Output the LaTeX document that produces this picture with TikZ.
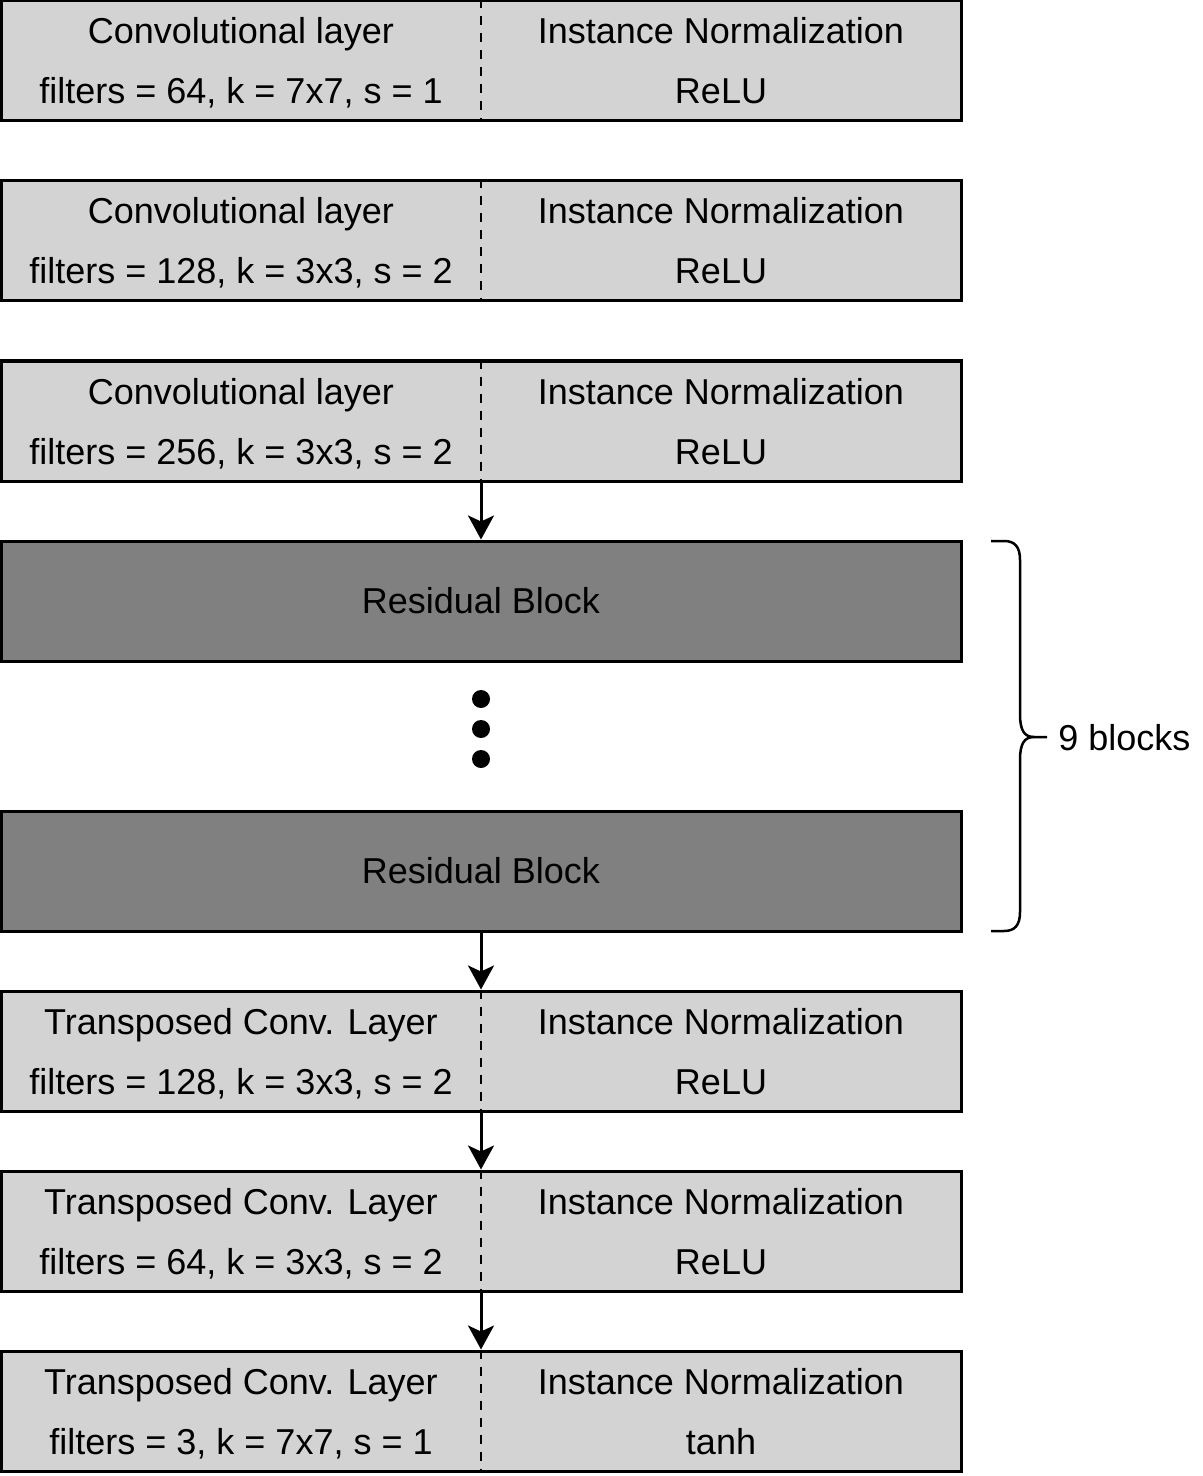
\documentclass[tikz,border=0pt]{standalone}
\usepackage{fontspec}
\setmainfont{Liberation Sans}
\usetikzlibrary{arrows.meta}
\definecolor{convgray}{RGB}{211,211,211}
\definecolor{resgray}{RGB}{128,128,128}
\tikzset{
  convbox/.style={draw,line width=1.5pt,fill=convgray,minimum width=480pt,minimum height=60pt,inner sep=0pt},
  resbox/.style={convbox,fill=resgray},
  txt/.style={inner sep=0pt,font=\fontsize{18}{22}\selectfont},
  line/.style={txt,anchor=base},
  divider/.style={line width=1.25pt,dash pattern=on 4.5pt off 4pt},
  flow/.style={line width=1.5pt,-{Stealth[length=12pt,width=13pt,inset=3pt]}},
  bracepen/.style={line width=1.25pt}
}
% name, y, left top, left bottom, right top, right bottom
\def\convrow#1#2#3#4#5#6{%
  \node[convbox] (#1) at (481,#2) {};
  \draw[divider] (#1.north) -- (#1.south);
  \node[line] (#1-lt) at ([xshift=-120pt,yshift=8.5pt]#1.center) {#3};
  \node[line] (#1-lb) at ([xshift=-120pt,yshift=-21.5pt]#1.center) {#4};
  \node[line] (#1-rt) at ([xshift=120pt,yshift=8.5pt]#1.center) {#5};
  \node[line] (#1-rb) at ([xshift=120pt,yshift=-21.5pt]#1.center) {#6};
}

\begin{document}
\begin{tikzpicture}[x=0.5pt,y=-0.5pt]
  \useasboundingbox (0,0) rectangle (1203,1476);
  \convrow{c1}{61}{Convolutional layer}{filters = 64, k = 7x7, s = 1}{Instance Normalization}{ReLU}
  \convrow{c2}{241}{Convolutional layer}{filters = 128, k = 3x3, s = 2}{Instance Normalization}{ReLU}
  \convrow{c3}{421}{Convolutional layer}{filters = 256, k = 3x3, s = 2}{Instance Normalization}{ReLU}
  \node[resbox] (r1) at (481,601) {};
  \node[txt] (r1-t) at (r1.center) {Residual Block};
  \node[resbox] (r2) at (481,871) {};
  \node[txt] (r2-t) at (r2.center) {Residual Block};
  \foreach \y in {699,729,759}
    \fill (481,\y) circle (4.5pt);
  \convrow{t1}{1051}{Transposed Conv. Layer}{filters = 128, k = 3x3, s = 2}{Instance Normalization}{ReLU}
  \convrow{t2}{1231}{Transposed Conv. Layer}{filters = 64, k = 3x3, s = 2}{Instance Normalization}{ReLU}
  \convrow{t3}{1411}{Transposed Conv. Layer}{filters = 3, k = 7x7, s = 1}{Instance Normalization}{tanh}

  \draw[flow] (c3.south) -- (r1.north);
  \draw[flow] (r2.south) -- (t1.north);
  \draw[flow] (t1.south) -- (t2.north);
  \draw[flow] (t2.south) -- (t3.north);

  % brace over the residual blocks
  \draw[bracepen] (991,541) -- (1004,541) .. controls (1015,541) and (1020,547) .. (1020,560)
    -- (1020,714) .. controls (1020,730) and (1024,737) .. (1034,737) -- (1047,737);
  \draw[bracepen] (991,931) -- (1004,931) .. controls (1015,931) and (1020,925) .. (1020,912)
    -- (1020,760) .. controls (1020,744) and (1024,737) .. (1034,737);
  \node[txt,anchor=west] (nblocks) at (1058,738) {9 blocks};
\end{tikzpicture}
\end{document}
